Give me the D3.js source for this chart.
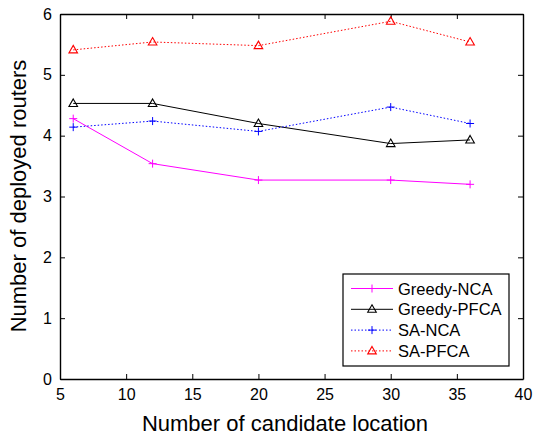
<!DOCTYPE html>
<html>
<head>
<meta charset="utf-8">
<script src="https://cdn.jsdelivr.net/npm/d3@7"></script>
<style>
  body { margin: 0; background: #fff; }
  svg text { font-family: "Liberation Sans", Arial, sans-serif; fill: #000; }
</style>
</head>
<body>
<svg id="chart" width="534" height="440"></svg>
<script>
// values
var candidates = [6, 12, 20, 30, 36];
var greedyNCA = [4.28, 3.54, 3.27, 3.27, 3.2];
var greedyPFCA = [4.53, 4.53, 4.2, 3.87, 3.93];
var saNCA = [4.14, 4.24, 4.07, 4.47, 4.2];
var saPFCA = [5.41, 5.54, 5.48, 5.88, 5.54];
var xTicks = [5, 10, 15, 20, 25, 30, 35, 40];
var yTicks = [0, 1, 2, 3, 4, 5, 6];

var series = [
    {name: "Greedy-NCA", values: greedyNCA, color: "#ff00ff", dash: null, marker: "plus"},
    {name: "Greedy-PFCA", values: greedyPFCA, color: "#000000", dash: null, marker: "tri"},
    {name: "SA-NCA", values: saNCA, color: "#0000ff", dash: "1.5,2", marker: "plus"},
    {name: "SA-PFCA", values: saPFCA, color: "#ff0000", dash: "1.5,2", marker: "tri"}
];

var svg = d3.select("#chart");
var plotL = 60, plotR = 523, plotT = 14, plotB = 379;

var x = d3.scaleLinear().domain([5, 40]).range([plotL, plotR]);
var y = d3.scaleLinear().domain([0, 6]).range([plotB, plotT]);

// axes, ticks pointing inward on all four sides
var g = svg.append("g");
g.append("g").attr("transform", "translate(0," + plotB + ")")
    .call(d3.axisBottom(x).tickValues(xTicks).tickFormat(d3.format("d")).tickSizeInner(-5).tickSizeOuter(0).tickPadding(10));
g.append("g").attr("transform", "translate(" + plotL + ",0)")
    .call(d3.axisLeft(y).tickValues(yTicks).tickFormat(d3.format("d")).tickSizeInner(-5).tickSizeOuter(0).tickPadding(8));
g.append("g").attr("transform", "translate(0," + plotT + ")")
    .call(d3.axisTop(x).tickValues(xTicks).tickSizeInner(-5).tickSizeOuter(0).tickFormat(""));
g.append("g").attr("transform", "translate(" + plotR + ",0)")
    .call(d3.axisRight(y).tickValues(yTicks).tickSizeInner(-5).tickSizeOuter(0).tickFormat(""));
g.selectAll("g").attr("font-family", null).attr("font-size", null);
g.selectAll(".domain").attr("stroke", "#000").attr("stroke-width", 1.4);
g.selectAll(".tick line").attr("stroke", "#000");
g.selectAll(".tick text").attr("font-size", 16);

// axis titles
svg.append("text").attr("x", 285).attr("y", 431).attr("text-anchor", "middle")
    .attr("font-size", 22).text("Number of candidate location");
svg.append("text").attr("transform", "translate(26,196) rotate(-90)").attr("text-anchor", "middle")
    .attr("font-size", 22).text("Number of deployed routers");

function drawMarker(sel, kind, color, cx, cy) {
    if (kind == "plus") {
        sel.append("path")
            .attr("d", "M" + (cx - 4) + "," + cy + "H" + (cx + 4) + "M" + cx + "," + (cy - 4) + "V" + (cy + 4))
            .attr("stroke", color).attr("stroke-width", 1).attr("fill", "none");
    } else {
        sel.append("path")
            .attr("d", "M" + cx + "," + (cy - 4.5) + "L" + (cx + 4.3) + "," + (cy + 3) + "L" + (cx - 4.3) + "," + (cy + 3) + "Z")
            .attr("stroke", color).attr("stroke-width", 1.1).attr("fill", "none");
    }
}

var line = d3.line()
    .x(function(d, i) { return x(candidates[i]); })
    .y(function(d) { return y(d); });

series.forEach(function(s) {
    var sg = svg.append("g");
    sg.append("path").attr("d", line(s.values))
        .attr("fill", "none").attr("stroke", s.color).attr("stroke-width", 1)
        .attr("stroke-dasharray", s.dash);
    s.values.forEach(function(v, i) {
        drawMarker(sg, s.marker, s.color, x(candidates[i]), y(v));
    });
});

// legend
var lg = svg.append("g");
lg.append("rect").attr("x", 343).attr("y", 274).attr("width", 166).attr("height", 92)
    .attr("fill", "#fff").attr("stroke", "#000").attr("stroke-width", 1.2);
series.forEach(function(s, i) {
    var ly = 288.5 + i * 20.8;
    lg.append("line").attr("x1", 351).attr("x2", 393).attr("y1", ly).attr("y2", ly)
        .attr("stroke", s.color).attr("stroke-width", 1).attr("stroke-dasharray", s.dash);
    drawMarker(lg, s.marker, s.color, 372, ly);
    lg.append("text").attr("x", 398).attr("y", ly + 6).attr("font-size", 16.5).text(s.name);
});
</script>
</body>
</html>
